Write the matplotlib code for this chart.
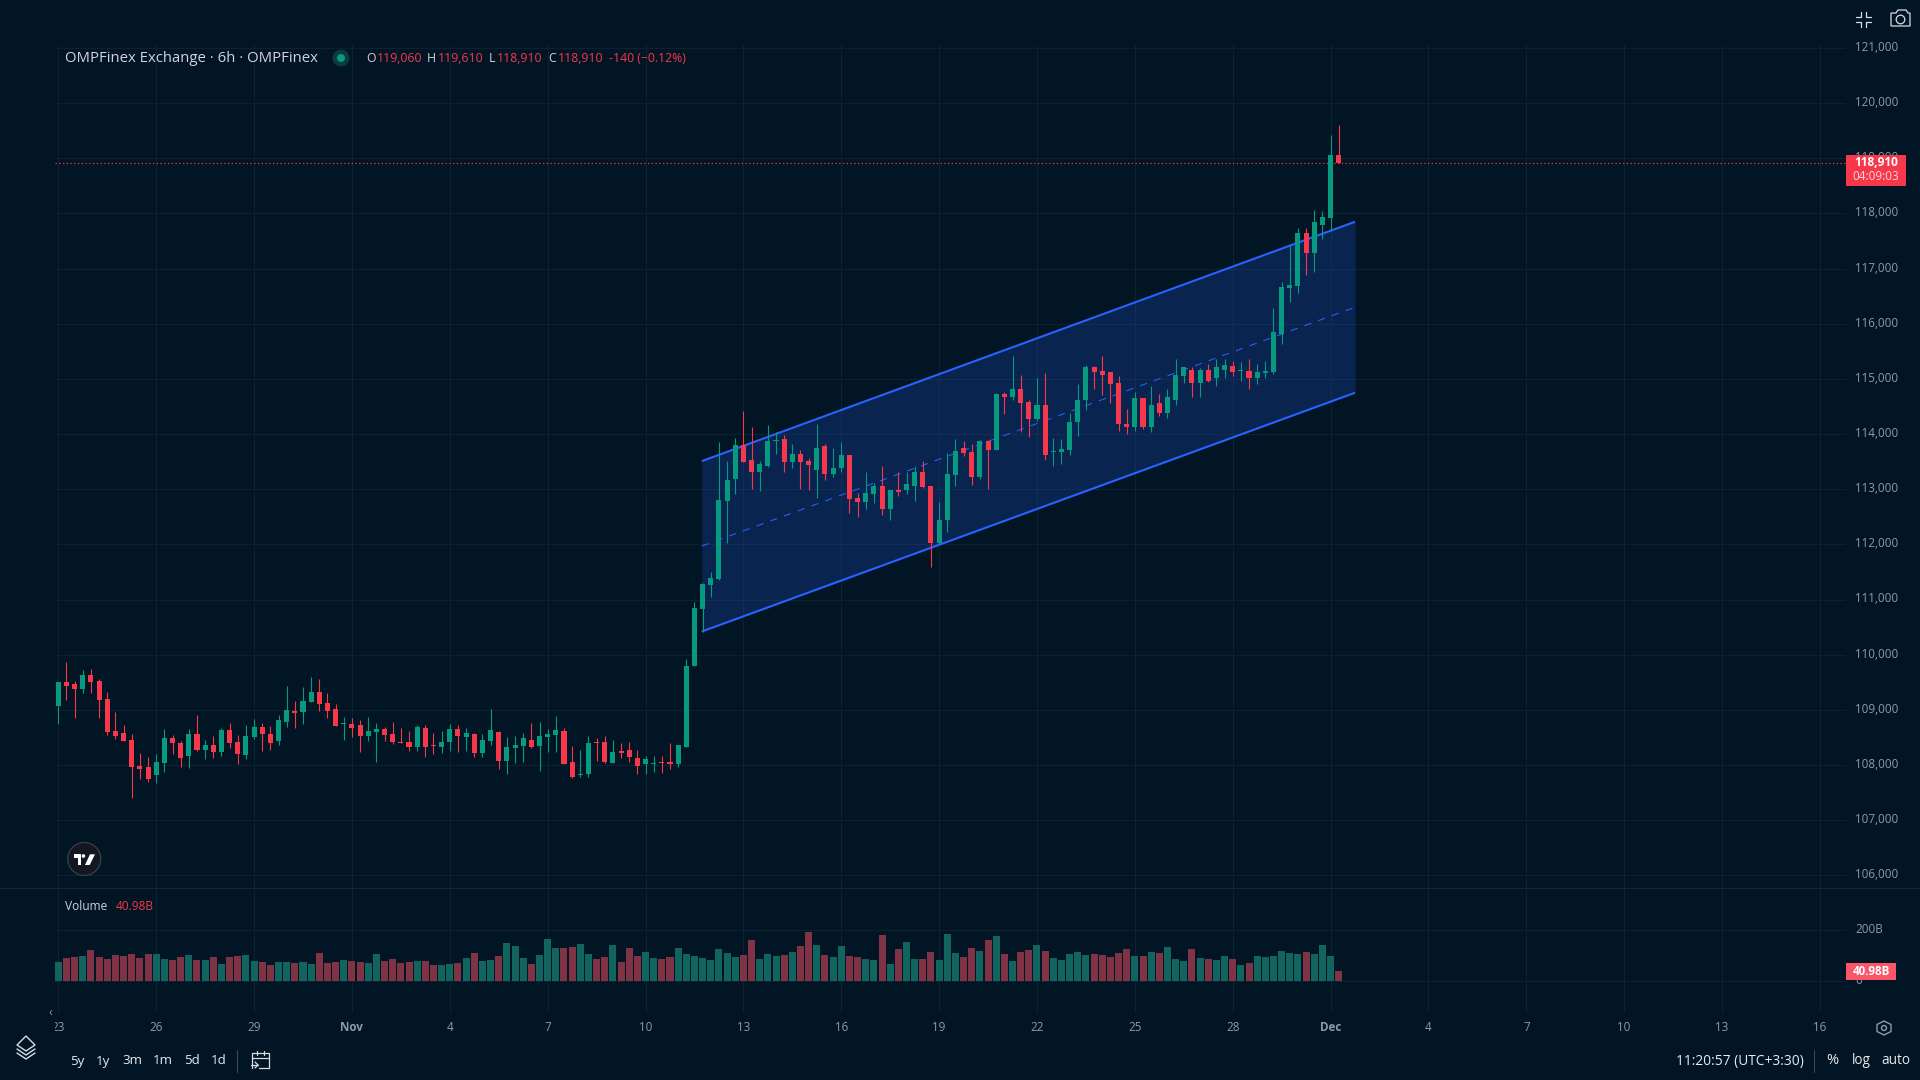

# OMPFinex 6h candles with a parallel channel, TradingView dark look
import matplotlib
matplotlib.use('Agg')
import matplotlib.pyplot as plt
from matplotlib.patches import Circle, Rectangle, Polygon
from matplotlib.transforms import Bbox, ScaledTranslation

opens = [109070,109500,109470,109380,109630,109520,109200,108620,108580,108460,107990,107970,107810,108040,108490,108400,
         108170,108560,108280,108370,108240,108640,108420,108190,108510,108690,108560,108440,108780,108980,108960,109140,
         109320,109120,109020,108740,108740,108730,108530,108600,108650,108560,108420,108420,108330,108670,108370,108330,
         108420,108650,108510,108560,108220,108440,108600,108080,108310,108350,108460,108350,108510,108550,108620,108060,
         107810,107830,108420,108420,108040,108260,108280,108130,108010,108020,108060,108060,108020,108330,109790,110820,
         111260,111370,112790,113190,113810,113530,113320,113420,113880,113920,113500,113640,113520,113350,113790,113280,
         113390,113620,112840,112770,112920,113060,112640,112990,112990,113060,113320,113060,112020,112440,113260,113750,
         113680,113220,113880,113720,114720,114680,114810,114590,114280,114520,113680,113680,113720,114220,114620,115220,
         115150,115120,114930,114190,114120,114660,114130,114570,114390,114620,115060,115170,114920,115170,115020,115170,
         115240,115150,115150,115010,115100,115120,115810,116650,116680,117640,117280,117790,117920,119060]
highs = [109500,109860,109520,109720,109740,109560,109320,108960,108730,108560,108220,108150,108200,108650,108550,108440,
         108650,108910,108460,108530,108670,108760,108550,108730,108830,108760,108710,108910,109430,109160,109410,109590,
         109560,109300,109110,108870,108850,108820,108870,108760,108690,108780,108670,108620,108730,108730,108580,108620,
         108740,108730,108670,108580,108560,109020,108620,108510,108530,108580,108760,108780,108650,108890,108670,108350,
         108280,108530,108490,108530,108460,108400,108420,108280,108170,108170,108170,108400,108370,109920,110950,111300,
         111500,113860,113520,113930,114420,114120,113520,114170,114040,113990,113820,113720,113570,114190,113820,113750,
         113860,113620,112930,113320,113120,113420,112990,113320,113320,113420,113520,113060,112770,113660,113920,113880,
         113820,113900,113900,114750,114770,115410,115080,114610,115010,115100,113930,113920,114390,114900,115260,115240,
         115410,115120,115060,114460,114770,114660,114880,114720,114820,115370,115220,115220,115190,115280,115370,115370,
         115330,115300,115370,115280,115320,116280,116760,117430,117740,117740,118060,118040,119420,119610]
lows = [108740,109180,108850,109300,109300,108850,108550,108470,108440,107410,107750,107700,107680,107880,108200,107970,
        107950,108260,108110,108130,108170,108310,108020,108100,108470,108260,108280,108370,108690,108670,108740,109140,
        108980,108850,108710,108460,108510,108240,108440,108060,108440,108380,108400,108260,108260,108150,108200,108220,
        108260,108240,108260,108150,108150,108370,107930,107840,108040,108060,108310,107900,108240,108240,108020,107770,
        107790,107790,108080,108040,108040,108130,108060,107840,107830,107880,107860,107930,107970,108330,109790,110410,
        111040,111350,112020,112920,113500,113010,112970,113410,113640,113320,113390,113010,112990,112840,113170,113220,
        113320,112570,112500,112640,112750,112530,112440,112880,112920,112790,113020,111590,112010,112220,113060,113610,
        113080,113190,113010,113720,114370,114610,114040,113950,114240,113530,113420,113460,113620,113970,114440,114820,
        114700,114570,114060,114010,114060,114100,114040,114320,114300,114530,114920,114680,114680,114950,114880,115010,
        115060,114970,114820,114900,115020,115090,115630,116390,116560,116880,116940,117540,117680,118910]
closes = [109500,109430,109380,109630,109500,109180,108600,108530,108440,107970,107920,107740,108060,108490,108400,108130,
          108560,108280,108370,108240,108640,108400,108200,108530,108690,108560,108400,108820,109000,108940,109160,109320,
          109110,108980,108710,108760,108670,108530,108620,108650,108550,108420,108400,108330,108690,108330,108350,108420,
          108650,108530,108580,108220,108460,108640,108080,108330,108370,108490,108330,108530,108560,108640,108020,107790,
          107830,108400,108400,108060,108240,108220,108150,107990,108110,108040,108040,108010,108370,109790,110840,111280,
          111390,112810,113170,113810,113500,113320,113460,113880,113900,113500,113640,113500,113440,113750,113280,113390,
          113620,112820,112770,112930,113060,112640,112990,112950,113100,113320,113040,112020,112440,113280,113700,113660,
          113220,113880,113720,114730,114680,114810,114570,114280,114530,113620,113700,113730,114220,114620,115210,115130,
          115080,114900,114190,114120,114660,114120,114530,114390,114680,115080,115210,114920,115170,114970,115210,115260,
          115130,115170,115010,115120,115150,115850,116660,116700,117640,117280,117840,117940,119060,118910]
volumes = [76.6,92.2,96.1,100.0,123.4,96.1,88.3,103.9,100.0,107.8,92.2,107.8,107.8,88.3,84.4,96.1,103.9,84.4,84.4,96.1,
           68.8,96.1,100.0,103.9,80.5,76.6,64.9,76.6,76.6,72.7,76.6,68.8,111.7,72.7,76.6,84.4,80.5,76.6,72.7,107.8,
           80.5,88.3,72.7,76.6,80.5,80.5,64.9,64.9,68.8,72.7,92.2,111.7,80.5,84.4,100.0,150.6,139.0,92.2,68.8,103.9,
           166.2,131.2,131.2,135.1,146.8,107.8,88.3,96.1,142.9,76.6,131.2,100.0,115.6,92.2,88.3,96.1,131.2,107.8,100.0,92.2,
           84.4,127.3,111.7,96.1,103.9,162.3,88.3,107.8,100.0,103.9,115.6,139.0,193.5,142.9,103.9,96.1,139.0,100.0,96.1,88.3,
           84.4,181.8,68.8,127.3,154.5,88.3,88.3,115.6,84.4,185.7,111.7,96.1,131.2,119.5,162.3,177.9,107.8,80.5,115.6,123.4,
           142.9,119.5,92.2,84.4,107.8,115.6,103.9,107.8,103.9,96.1,111.7,127.3,100.0,100.0,115.6,111.7,135.1,88.3,80.5,127.3,
           92.2,88.3,84.4,100.0,88.3,64.9,72.7,100.0,96.1,100.0,119.5,111.7,107.8,115.6,107.8,142.9,100.0,40.98]

price_ticks = [106000,107000,108000,109000,110000,111000,112000,113000,114000,115000,116000,117000,118000,119000,120000,121000]
day_ticks = [0,12,24,36,48,60,72,84,96,108,120,132,144,156,168,180,192,204,216]
day_labels = ['23','26','29','Nov','4','7','10','13','16','19','22','25','28','Dec','4','7','10','13','16']

channel_x = [78.9, 159.0]
channel_top = [113510, 117850]
channel_mid = [111970, 116300]
channel_low = [110420, 114750]

BG = '#011524'
GRID = '#0c2230'
UP = '#089981'
DOWN = '#F7374A'
VOL_UP = '#12655F'
VOL_DOWN = '#803344'
BLUE = '#2962FF'
AXIS_TEXT = '#8f9aa5'
LIGHT = '#d1d4dc'

plt.rcParams['font.family'] = ['Open Sans', 'DejaVu Sans']

W, H = 1920, 1080
fig = plt.figure(figsize=(W / 100, H / 100), dpi=100, facecolor=BG)
# axis labels sit a little above their grid lines
lift = ScaledTranslation(0, 1.5 / 72, fig.dpi_scale_trans)


def pane(left, top, right, bottom):
    a = fig.add_axes([left / W, 1 - bottom / H, (right - left) / W, (bottom - top) / H], facecolor=BG)
    for s in a.spines.values():
        s.set_visible(False)
    a.grid(True, color=GRID, linewidth=0.72)
    a.set_axisbelow(True)
    a.yaxis.tick_right()
    a.tick_params(length=0)
    return a


ax = pane(55, 45, 1846, 888)
ax_vol = pane(55, 888, 1846, 1013)

x = list(range(len(closes)))
colors = [UP if c >= o else DOWN for o, c in zip(opens, closes)]
vol_colors = [VOL_UP if c >= o else VOL_DOWN for o, c in zip(opens, closes)]

# channel
ax.fill_between(channel_x, channel_low, channel_top, color=BLUE, alpha=0.2, linewidth=0, zorder=1)
ax.plot(channel_x, channel_top, color=BLUE, linewidth=1.5, zorder=2, solid_capstyle='butt')
ax.plot(channel_x, channel_low, color=BLUE, linewidth=1.5, zorder=2, solid_capstyle='butt')
ax.plot(channel_x, channel_mid, color=BLUE, linewidth=0.75, linestyle=(0, (7, 7)), zorder=2)

# candles
ax.vlines(x, lows, highs, colors=colors, linewidth=0.8, zorder=3)
ax.bar(x, [abs(c - o) for o, c in zip(opens, closes)], bottom=[min(o, c) for o, c in zip(opens, closes)],
       width=0.62, color=colors, linewidth=0, zorder=4)
ax.axhline(closes[-1], color=DOWN, linewidth=0.9, linestyle=(0, (1, 2)), zorder=2)

ax.set_xlim(-0.41, 219.2)
ax.set_ylim(105770, 121055)
ax.set_yticks(price_ticks)
ax.set_yticklabels([f'{p:,}' for p in price_ticks], fontsize=8.4, color=AXIS_TEXT)
ax.tick_params(axis='y', pad=6.5)
ax.set_xticks(day_ticks)
ax.tick_params(axis='x', labelbottom=False)

ax_vol.bar(x, volumes, width=0.86, color=vol_colors, linewidth=0, zorder=3)
ax_vol.set_xlim(-0.41, 219.2)
ax_vol.set_ylim(-126, 367)
ax_vol.set_yticks([0, 200])
ax_vol.set_yticklabels(['0', '200B'], fontsize=8.4, color=AXIS_TEXT)
ax_vol.tick_params(axis='y', pad=6.5)
ax_vol.set_xticks(day_ticks)
ax_vol.set_xticklabels(day_labels, fontsize=8.4, color=AXIS_TEXT)
ax_vol.tick_params(axis='x', pad=5.9)
for lab in ax_vol.get_xticklabels():
    if lab.get_text() in ('Nov', 'Dec'):
        lab.set_fontweight('bold')
    # the first label sits half under the left edge
    lab.set_clip_box(Bbox([[55, 0], [W, H]]))
    lab.set_clip_on(True)
for a in (ax, ax_vol):
    for lab in a.get_yticklabels():
        lab.set_transform(lab.get_transform() + lift)

# overlay in screen pixels for the TradingView furniture
ui = fig.add_axes([0, 0, 1, 1])
ui.set_xlim(0, W)
ui.set_ylim(H, 0)
ui.axis('off')


def label(px, py, s, color=LIGHT, size=8.4, ha='left', weight='normal'):
    return ui.text(px, py, s, color=color, fontsize=size, ha=ha, va='center', fontweight=weight)


def stroke(xs, ys, color='#d8dde3', lw=0.9):
    ui.plot(xs, ys, color=color, linewidth=lw, solid_capstyle='round')


ui.plot([0, W], [888, 888], color='#13293a', linewidth=0.8)

# legend row
label(65, 59, 'OMPFinex Exchange · 6h · OMPFinex', size=10.7)
ui.add_patch(Circle((341, 58), 8.5, color='#0b3a40', linewidth=0))
ui.add_patch(Circle((341, 58), 4, color=UP, linewidth=0))
for px, s, c in [(366, 'O', LIGHT), (377, '119,060', DOWN), (427, 'H', LIGHT), (438, '119,610', DOWN),
                 (489, 'L', LIGHT), (497, '118,910', DOWN), (548, 'C', LIGHT), (558, '118,910', DOWN),
                 (609, '-140 (−0.12%)', DOWN)]:
    label(px, 59, s, color=c, size=8.8)

label(65, 906.5, 'Volume', size=8.6)
label(116, 906.5, '40.98B', color=DOWN, size=8.6)

# last price tags
ui.add_patch(Rectangle((1846, 155), 60, 31, color=DOWN, linewidth=0))
label(1876, 163, '118,910', color='white', size=8.6, ha='center', weight='bold')
label(1876, 177, '04:09:03', color='#fbd5d9', size=8.4, ha='center')
ui.add_patch(Rectangle((1846, 963), 50, 17, color='#F9566A', linewidth=0))
label(1871, 971.5, '40.98B', color='white', size=8.4, ha='center', weight='bold')

# TV badge
ui.add_patch(Circle((84.3, 859), 16.5, facecolor='#131722', edgecolor='#383a45', linewidth=1))
ui.add_patch(Polygon([(74.3, 854.3), (81, 854.3), (81, 865), (77.5, 865), (77.5, 858.3), (74.3, 858.3)],
                     closed=True, color='white', linewidth=0))
ui.add_patch(Circle((83.4, 856), 1.8, color='white', linewidth=0))
ui.add_patch(Polygon([(90, 854.3), (95, 854.3), (89.7, 865), (85, 865)], closed=True, color='white', linewidth=0))

# fullscreen icon
for sx, sy in [(-1, -1), (1, -1), (-1, 1), (1, 1)]:
    cx, cy = 1863 + sx * 2.5, 19 + sy * 2.5
    stroke([cx + sx * 5, cx, cx], [cy, cy, cy + sy * 5])

# camera icon
ui.add_patch(Polygon([(1891, 13), (1896, 13), (1898, 10), (1906, 10), (1908, 13), (1910, 13), (1910, 26), (1891, 26)],
                     closed=True, fill=False, edgecolor='#d8dde3', linewidth=0.9))
ui.add_patch(Circle((1900.5, 19.5), 4.3, fill=False, edgecolor='#d8dde3', linewidth=0.9))

# collapse arrow, layers icon
label(50.5, 1012, '‹', color=AXIS_TEXT, size=9, ha='center')
for dy in (4, 8):
    stroke([17, 26, 35], [1045 + dy, 1051 + dy, 1045 + dy], lw=1)
ui.add_patch(Polygon([(26, 1036), (35, 1045), (26, 1051), (17, 1045)], closed=True, fill=False,
                     edgecolor='#d8dde3', linewidth=1))

# range buttons
for px, s in [(77, '5y'), (103, '1y'), (132, '3m'), (163, '1m'), (192, '5d'), (219, '1d')]:
    label(px, 1061, s, size=9.6, ha='center', color='#e8ebef')
stroke([237, 237], [1050, 1072], color='#3a4854', lw=0.8)

# go to date icon
stroke([252, 252, 269, 269, 259], [1068, 1053, 1053, 1068, 1068], lw=0.9)
stroke([252, 269], [1058, 1058], lw=0.9)
stroke([257, 257], [1051, 1055], lw=0.9)
stroke([264, 264], [1051, 1055], lw=0.9)
stroke([251, 258], [1065, 1065], lw=0.9)
stroke([255, 258, 255], [1062, 1065, 1068], lw=0.9)

# bottom right
label(1804, 1061, '11:20:57 (UTC+3:30)', size=9.9, ha='right', color='#e8ebef')
stroke([1814, 1814], [1050, 1072], color='#3a4854', lw=0.8)
label(1832, 1061, '%', size=10.5, ha='center', color='#e8ebef')
label(1861, 1061, 'log', size=9.8, ha='center', color='#e8ebef')
label(1896, 1061, 'auto', size=9.8, ha='center', color='#e8ebef')

# gear
ui.add_patch(Polygon([(1884, 1021), (1891, 1024.5), (1891, 1031.5), (1884, 1035), (1877, 1031.5), (1877, 1024.5)],
                     closed=True, fill=False, edgecolor=AXIS_TEXT, linewidth=1))
ui.add_patch(Circle((1884, 1028), 2.5, fill=False, edgecolor=AXIS_TEXT, linewidth=1))

fig.savefig('out.png', dpi=100, facecolor=BG)
